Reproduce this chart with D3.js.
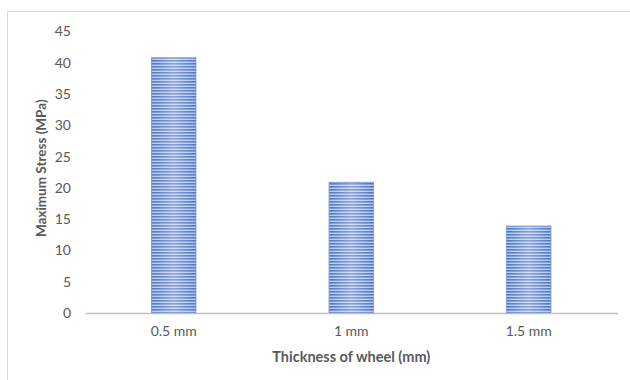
<!DOCTYPE html>
<html><head><meta charset="utf-8">
<script src="https://cdn.jsdelivr.net/npm/d3@7"></script>
<style>html,body{margin:0;padding:0;background:#fff;}</style>
</head><body>
<script>
const categories = ["0.5 mm", "1 mm", "1.5 mm"];
const values = [40.8, 20.9, 13.9];
const yTicks = [0, 5, 10, 15, 20, 25, 30, 35, 40, 45];
const xTitle = "Thickness of wheel (mm)";
const yTitle = "Maximum Stress (MPa)";

(function () {
const W = 630, H = 380;
const svg = d3.select("body").append("svg").attr("width", W).attr("height", H);
const font = "Lato, 'Open Sans', sans-serif";

// frame
svg.append("rect").attr("x", 7.5).attr("y", 11.5).attr("width", 640).attr("height", 400)
  .attr("fill", "#fff").attr("stroke", "#d9d9d9").attr("stroke-width", 1);

const pLeft = 85, pRight = 617.5, pTop = 31.5, pBottom = 313;
const x = d3.scaleBand().domain(categories).range([pLeft, pRight]).paddingInner(0.75).paddingOuter(0.375);
const y = d3.scaleLinear().domain([0, 45]).range([pBottom, pTop]);

const defs = svg.append("defs");
const pat = defs.append("pattern").attr("id", "stripes").attr("patternUnits", "userSpaceOnUse")
  .attr("width", 8).attr("height", 3);
pat.append("rect").attr("width", 8).attr("height", 3).attr("fill", "#b8c9ec");
pat.append("rect").attr("y", 0).attr("width", 8).attr("height", 1.6).attr("fill", "#4a74c6");
const grad = defs.append("linearGradient").attr("id", "shine").attr("x1", "0").attr("x2", "1").attr("y1", "0").attr("y2", "0");
grad.append("stop").attr("offset", "0").attr("stop-color", "#fff").attr("stop-opacity", 0.0);
grad.append("stop").attr("offset", "0.5").attr("stop-color", "#fff").attr("stop-opacity", 0.35);
grad.append("stop").attr("offset", "1").attr("stop-color", "#fff").attr("stop-opacity", 0.0);

const bars = svg.append("g");
bars.selectAll("rect.bar").data(values).join("rect").attr("class", "bar")
  .attr("x", (d, i) => x(categories[i])).attr("width", x.bandwidth())
  .attr("y", d => y(d)).attr("height", d => pBottom - y(d))
  .attr("fill", "url(#stripes)");
bars.selectAll("rect.shine").data(values).join("rect").attr("class", "shine")
  .attr("x", (d, i) => x(categories[i])).attr("width", x.bandwidth())
  .attr("y", d => y(d)).attr("height", d => pBottom - y(d))
  .attr("fill", "url(#shine)")
  .attr("stroke", "#6f93d6").attr("stroke-width", 0.8);

// y axis labels
const ya = svg.append("g").attr("transform", `translate(${pLeft},0)`)
  .call(d3.axisLeft(y).tickValues(yTicks).tickSize(0).tickPadding(14));
ya.select(".domain").remove();
ya.selectAll("text").attr("font-family", font).attr("font-size", 14).attr("fill", "#595959");

// x axis
const xa = svg.append("g").attr("transform", `translate(0,${pBottom})`)
  .call(d3.axisBottom(x).tickSize(0).tickPadding(13));
xa.select(".domain").attr("stroke", "#bfbfbf").attr("stroke-width", 1.5);
xa.selectAll("text").attr("font-family", font).attr("font-size", 14).attr("fill", "#595959");

svg.append("text").attr("x", (pLeft + pRight) / 2).attr("y", 362).attr("text-anchor", "middle")
  .attr("font-family", font).attr("font-size", 14.5).attr("font-weight", "bold").attr("fill", "#595959")
  .text(xTitle);
svg.append("text").attr("transform", `translate(46,${(pTop + pBottom) / 2 - 4}) rotate(-90)`)
  .attr("text-anchor", "middle")
  .attr("font-family", font).attr("font-size", 13.5).attr("font-weight", "bold").attr("fill", "#595959")
  .text(yTitle);
})();
</script>
</body></html>
